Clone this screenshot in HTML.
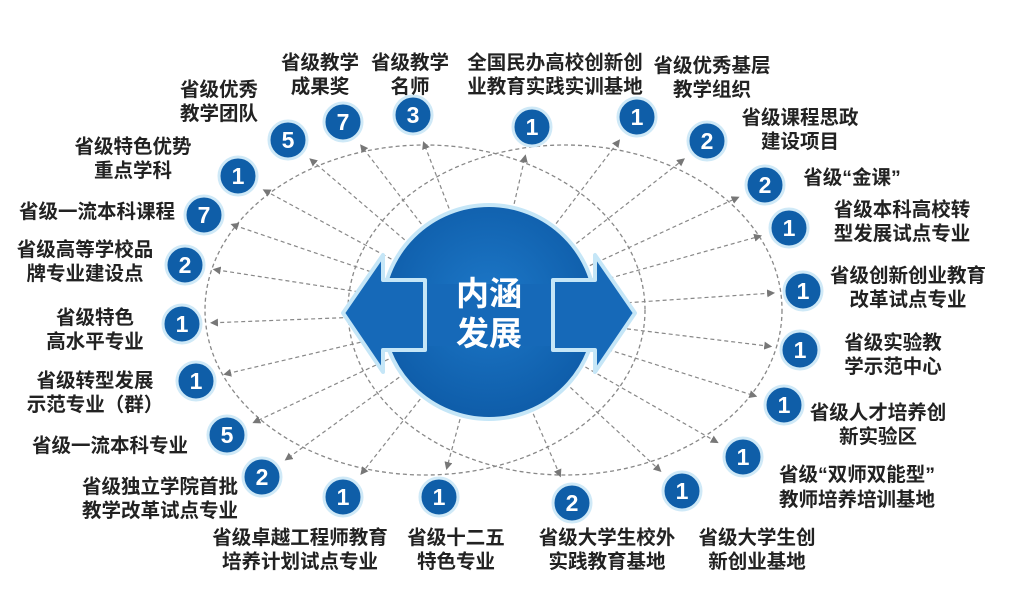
<!DOCTYPE html>
<html><head><meta charset="utf-8"><style>
html,body{margin:0;padding:0;background:#fff;}
svg{display:block;}
.l{font-family:"Liberation Sans","Noto Sans CJK SC",sans-serif;font-weight:bold;font-size:19.5px;fill:#222;text-anchor:middle;}
.n{font-family:"Liberation Sans",sans-serif;font-weight:bold;font-size:23px;fill:#fff;text-anchor:middle;}
</style></head><body>
<svg width="1009" height="612" viewBox="0 0 1009 612" xmlns="http://www.w3.org/2000/svg">
<defs>
<marker id="a" markerWidth="8" markerHeight="8" refX="6" refY="4" orient="auto" markerUnits="userSpaceOnUse"><path d="M0,0 L8,4 L0,8 z" fill="#777"/></marker>
<radialGradient id="g" cx="50%" cy="45%" r="60%"><stop offset="0" stop-color="#1d78c8"/><stop offset="1" stop-color="#0d5aa6"/></radialGradient>
</defs>
<ellipse cx="425" cy="310" rx="220" ry="165" fill="none" stroke="#888" stroke-width="1.3" stroke-dasharray="4,3"/>
<ellipse cx="565" cy="310" rx="217" ry="165" fill="none" stroke="#888" stroke-width="1.3" stroke-dasharray="4,3"/>
<g id="lines" stroke="#888" stroke-width="1.2" stroke-dasharray="4,3" marker-end="url(#a)"></g>
<g id="circ"></g>
<circle cx="489" cy="312" r="107" fill="url(#g)" stroke="#c5e6f7" stroke-width="4"/>
<polygon points="425,280 425,350 383,350 383,372 343,313 383,255 383,280" fill="#1669b8" stroke="#c5e6f7" stroke-width="4" stroke-linejoin="round"/>
<polygon points="553,280 553,350 595,350 595,372 635,313 595,255 595,280" fill="#1669b8" stroke="#c5e6f7" stroke-width="4" stroke-linejoin="round"/>
<rect x="428" y="284" width="122" height="62" fill="#1669b8"/>
<text x="489" y="305" style="font-family:'Liberation Sans','Noto Sans CJK SC',sans-serif;font-weight:bold;font-size:33px;fill:#fff;text-anchor:middle">内涵</text>
<text x="489" y="345" style="font-family:'Liberation Sans','Noto Sans CJK SC',sans-serif;font-weight:bold;font-size:33px;fill:#fff;text-anchor:middle">发展</text>

<g>
<text class="l" x="320" y="69">省级教学</text><text class="l" x="320" y="93">成果奖</text>
<text class="l" x="410" y="69">省级教学</text><text class="l" x="410" y="93">名师</text>
<text class="l" x="555" y="69">全国民办高校创新创</text><text class="l" x="555" y="93">业教育实践实训基地</text>
<text class="l" x="712" y="72">省级优秀基层</text><text class="l" x="712" y="96">教学组织</text>
<text class="l" x="800" y="124">省级课程思政</text><text class="l" x="800" y="148">建设项目</text>
<text class="l" x="852" y="184">省级“金课”</text>
<text class="l" x="902" y="216">省级本科高校转</text><text class="l" x="902" y="240">型发展试点专业</text>
<text class="l" x="908" y="282">省级创新创业教育</text><text class="l" x="908" y="306">改革试点专业</text>
<text class="l" x="893" y="349">省级实验教</text><text class="l" x="893" y="373">学示范中心</text>
<text class="l" x="878" y="419">省级人才培养创</text><text class="l" x="878" y="443">新实验区</text>
<text class="l" x="857" y="481">省级“双师双能型”</text><text class="l" x="857" y="506">教师培养培训基地</text>
<text class="l" x="757" y="544">省级大学生创</text><text class="l" x="757" y="568">新创业基地</text>
<text class="l" x="607" y="544">省级大学生校外</text><text class="l" x="607" y="568">实践教育基地</text>
<text class="l" x="456" y="544">省级十二五</text><text class="l" x="456" y="568">特色专业</text>
<text class="l" x="300" y="544">省级卓越工程师教育</text><text class="l" x="300" y="568">培养计划试点专业</text>
<text class="l" x="160" y="493">省级独立学院首批</text><text class="l" x="160" y="517">教学改革试点专业</text>
<text class="l" x="110" y="452">省级一流本科专业</text>
<text class="l" x="95" y="387">省级转型发展</text><text class="l" x="95" y="411">示范专业（群）</text>
<text class="l" x="95" y="324">省级特色</text><text class="l" x="95" y="348">高水平专业</text>
<text class="l" x="85" y="256">省级高等学校品</text><text class="l" x="85" y="280">牌专业建设点</text>
<text class="l" x="97" y="218">省级一流本科课程</text>
<text class="l" x="133" y="153">省级特色优势</text><text class="l" x="133" y="177">重点学科</text>
<text class="l" x="219" y="96">省级优秀</text><text class="l" x="219" y="120">教学团队</text>
</g>
<script>
var pts=[[288,140,5],[343,122,7],[413,115,3],[532,127,1],[637,117,1],[707,141,2],[765,185,2],[789,228,1],[803,291,1],[800,350,1],[784,405,1],[743,457,1],[682,491,1],[572,503,2],[439,497,1],[343,497,1],[262,477,2],[227,435,5],[196,381,1],[182,324,1],[185,265,2],[204,215,7],[238,176,1]];
var ns="http://www.w3.org/2000/svg",L=document.getElementById('lines'),C=document.getElementById('circ');
pts.forEach(function(p){
 var dx=p[0]-489,dy=p[1]-312,d=Math.sqrt(dx*dx+dy*dy),ux=dx/d,uy=dy/d;
 var l=document.createElementNS(ns,'line');
 l.setAttribute('x1',489+ux*90);l.setAttribute('y1',312+uy*90);
 l.setAttribute('x2',p[0]-ux*30);l.setAttribute('y2',p[1]-uy*30);L.appendChild(l);
 var c=document.createElementNS(ns,'circle');
 c.setAttribute('cx',p[0]);c.setAttribute('cy',p[1]);c.setAttribute('r',19);
 c.setAttribute('fill','#0f5ea8');c.setAttribute('stroke','#cfe9f7');c.setAttribute('stroke-width','3');C.appendChild(c);
 var t=document.createElementNS(ns,'text');t.setAttribute('class','n');
 t.setAttribute('x',p[0]);t.setAttribute('y',p[1]+8);t.textContent=p[2];C.appendChild(t);
});
</script>
</svg>
</body></html>
